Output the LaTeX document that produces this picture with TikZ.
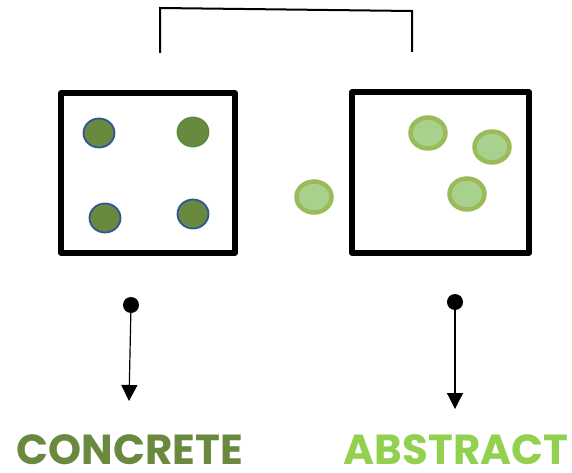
\documentclass[tikz,border=0pt]{standalone}
\usepackage{fontspec}
\setmainfont{Poppins}
\usetikzlibrary{shapes.geometric, arrows.meta}

\begin{document}
\begin{tikzpicture}[x=1pt, y=-1pt]
    \useasboundingbox (0,0) rectangle (572,473);

    \definecolor{darkFill}{HTML}{69893F}
    \definecolor{blueBorder}{HTML}{2F5597}
    \definecolor{greenBorder}{HTML}{5B8A3A}
    \definecolor{lightFill}{HTML}{A9D18E}
    \definecolor{lightBorder}{HTML}{9BBB59}
    \definecolor{abstractColour}{HTML}{92D050}

    \tikzset{
        box/.style={draw=black, line width=5.5pt, line join=round},
        concreteDot/.style={ellipse, fill=darkFill, draw=blueBorder, line width=1.8pt,
            minimum width=31pt, minimum height=29pt, inner sep=0pt},
        abstractDot/.style={ellipse, fill=lightFill, draw=lightBorder, line width=4.5pt,
            minimum width=35pt, minimum height=31pt, inner sep=0pt},
        pin/.style={circle, fill=black, minimum size=16pt, inner sep=0pt},
        pointer/.style={line width=1.2pt, -{Triangle[width=16pt, length=16pt]}},
        word/.style={anchor=base, inner sep=0pt, font=\fontsize{42}{42}\selectfont\bfseries}
    }

    % Draw bracket
    \coordinate (bracketL) at (160,53);
    \coordinate (bracketR) at (412,52);
    \draw[line width=2pt] (bracketL) -- (160,8) -- (412,11) -- (bracketR);

    % Draw boxes
    \draw[box] (61,93) rectangle (235,253);
    \draw[box] (352,92) rectangle (529,253);

    % Concrete dots
    \node[concreteDot] (c1) at (99,133) {};
    \node[concreteDot, draw=greenBorder] (c2) at (193,132) {};
    \node[concreteDot] (c3) at (105,218) {};
    \node[concreteDot] (c4) at (193,214) {};

    % Abstract dots
    \node[abstractDot] (a0) at (314,197) {};
    \node[abstractDot] (a1) at (428,133) {};
    \node[abstractDot] (a2) at (492,147) {};
    \node[abstractDot] (a3) at (467,194) {};

    % Pointers
    \node[pin] (pinC) at (131,305) {};
    \node[pin] (pinA) at (455,302) {};
    \coordinate (tipC) at (129,401);
    \coordinate (tipA) at (455,409);
    \draw[pointer] (pinC.center) -- (tipC);
    \draw[pointer] (pinA.center) -- (tipA);

    % Labels
    \node[word, text=darkFill] (concrete) at (130,464) {CONCRETE};
    \node[word, text=abstractColour] (abstract) at (456,464) {ABSTRACT};

\end{tikzpicture}
\end{document}
